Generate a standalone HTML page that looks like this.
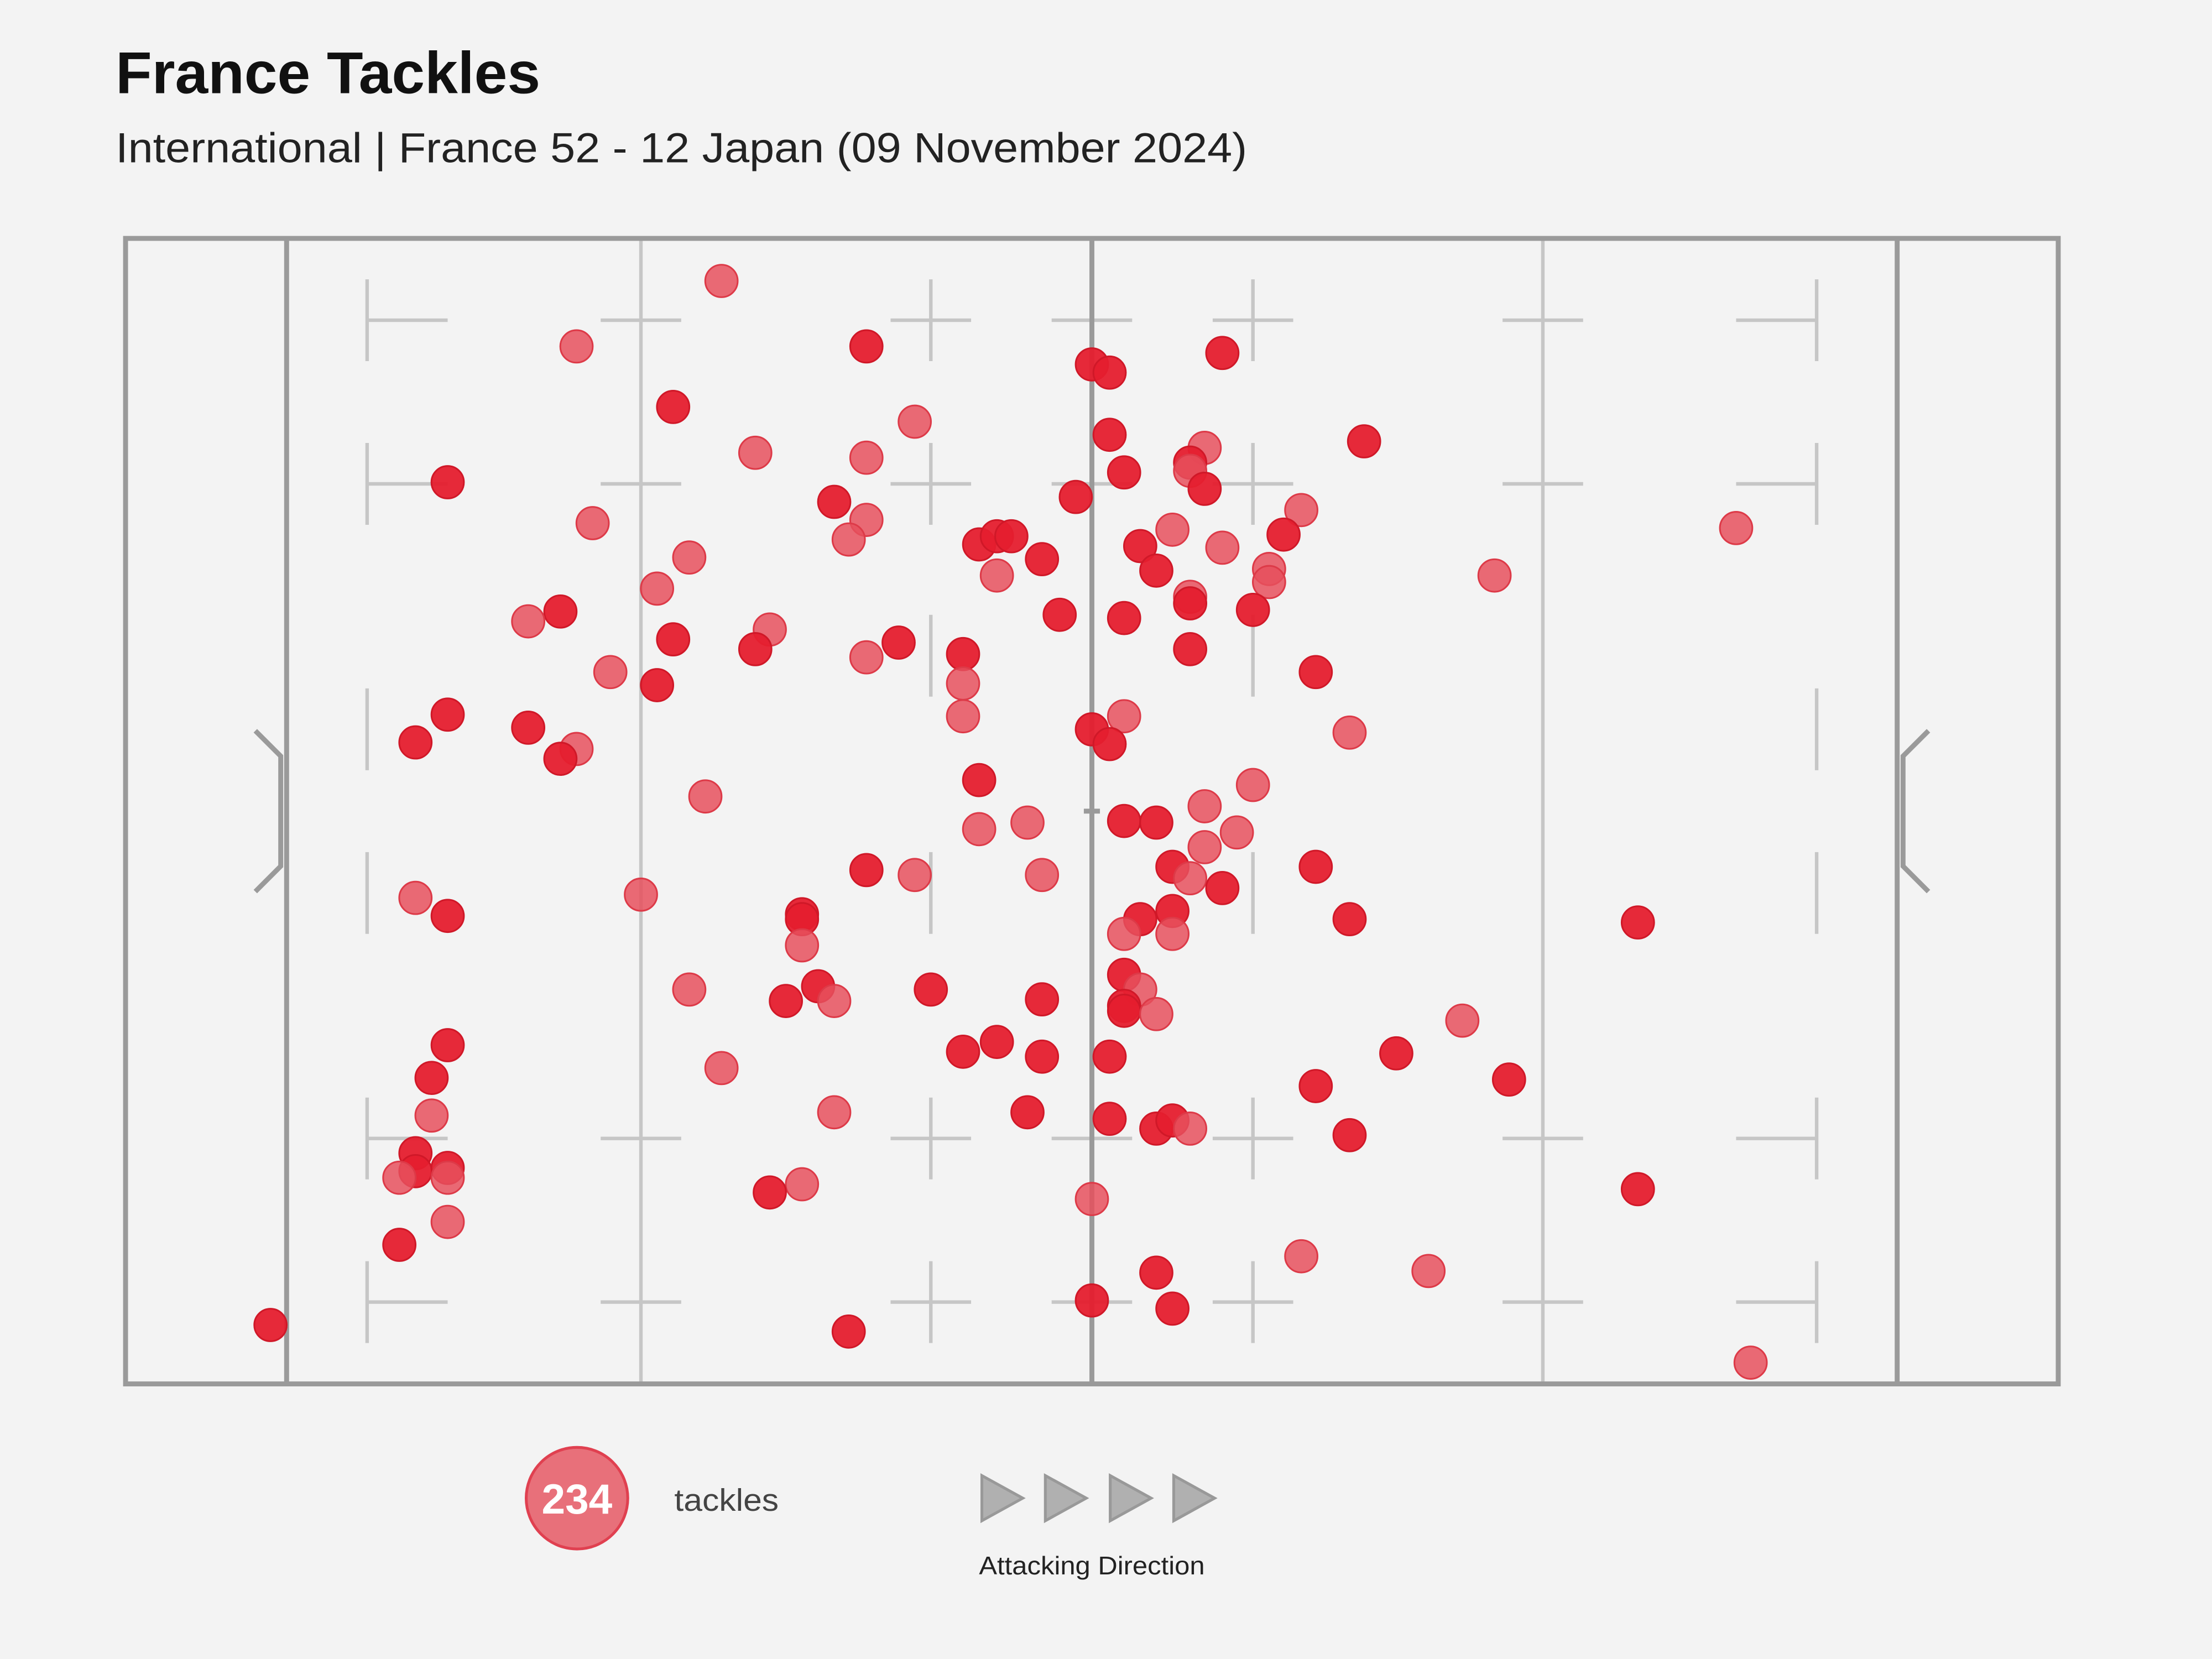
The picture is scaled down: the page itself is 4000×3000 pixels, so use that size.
<!DOCTYPE html>
<html><head><meta charset="utf-8"><style>
html,body{margin:0;padding:0;background:#f3f3f3;}
svg{display:block;}
</style></head><body>
<svg id="chart" width="4000" height="3000" viewBox="0 0 1568 1176" xmlns="http://www.w3.org/2000/svg" font-family="'Liberation Sans', sans-serif">
<rect width="1568" height="1176" fill="#f3f3f3"/>
<text x="82" y="66" font-size="42" font-weight="bold" fill="#111" textLength="301" lengthAdjust="spacingAndGlyphs">France Tackles</text>
<text x="82" y="115" font-size="30" fill="#222" textLength="802" lengthAdjust="spacingAndGlyphs">International | France 52 - 12 Japan (09 November 2024)</text>
<g id="pitch"></g>
<g id="points"></g>
<g>
<circle cx="409" cy="1062" r="36" fill="#e8707a" stroke="#e04050" stroke-width="2"/>
<text x="409" y="1073" font-size="30" font-weight="bold" fill="#fff" text-anchor="middle">234</text>
<text x="478" y="1071" font-size="22" fill="#444" textLength="74" lengthAdjust="spacingAndGlyphs">tackles</text>
<g fill="#b0b0b0" stroke="#999" stroke-width="2">
<polygon points="696,1046 725,1062 696,1078"/>
<polygon points="741,1046 770,1062 741,1078"/>
<polygon points="787,1046 816,1062 787,1078"/>
<polygon points="832,1046 861,1062 832,1078"/>
</g>
<text x="694" y="1116" font-size="18" fill="#222" textLength="160" lengthAdjust="spacingAndGlyphs">Attacking Direction</text>
</g>
</svg>
<script>
// x: metres from left try line (-10..110), y: metres from top touchline (0..70), d: 1 = strong, 0 = faded
const xs = [27,18,36,24,29.1,36,39,10,19,34,36,34.9,25,23,17,15,24,30,29.1,36,38,20.1,23,10,8,15,18,17,26,42,42,42,43,44.1,45,44.1,46.9,48,49,50,51.1,51.1,52,58.1,66.9,57,56.1,56.1,57,63,61.9,55,53,54,58.1,61,61,60,56.1,56.1,52,56.1,63.9,75,90,52,50,51.1,66,43,43,46,46.9,39,36,52,54,57,60,59,57,55,56.1,58.1,63.9,66,55,53,52,55,52,53,52,52,54,46.9,44.1,42,46.9,51.1,46,51.1,54,55,56.1,50,54,50,55,63,63.9,66,68.9,73,75.9,70.9,83.9,83.9,90.9,34.9,32,32,32,33,34,31,40,25,22,27,34,32,30,8,10,10,9,9,8,8,7,10,10,10,7,-1];
const ys = [2.6,6.6,6.6,10.3,13.1,13.4,11.2,14.9,17.4,16.1,17.2,18.4,19.5,21.4,22.8,23.4,24.5,23.9,25.1,25.6,24.7,26.5,27.3,29.1,30.8,29.9,31.2,31.8,34.1,25.4,27.2,29.2,18.7,18.2,18.2,20.6,19.6,23,15.8,7.7,8.2,12,14.3,7,12.4,12.8,13.7,14.2,15.3,16.6,18.1,17.8,18.8,20.3,18.9,20.2,21,22.7,21.9,22.3,23.2,25.1,26.5,20.6,17.7,29.2,30,30.9,30.2,33.1,36.1,35.7,38.9,38.9,38.6,35.6,35.7,34.7,33.4,36.3,37.2,38.4,39.1,39.7,38.4,41.6,41.1,41.6,42.5,42.5,45,45.9,46.9,47.2,47.4,46.5,49.1,49.7,50,50,53.4,53.8,54.4,53.9,54.4,58.7,63.2,64.9,65.4,62.2,51.8,54.8,49.8,47.8,51.4,63.1,41.8,58.1,68.7,66.8,41.3,41.6,43.2,45.7,46.6,46.6,45.9,45.9,40.1,50.7,53.4,57.8,58.3,40.3,41.4,49.3,51.3,53.6,55.9,57,57.4,56.8,57.4,60.1,61.5,66.4];
const ds = [0,0,1,1,0,0,0,1,0,1,0,0,0,0,1,0,1,0,1,0,1,0,1,1,1,1,0,1,0,1,0,0,1,1,1,0,1,1,1,1,1,1,1,1,1,0,1,0,1,0,1,0,1,1,0,0,0,1,0,1,1,1,1,0,0,0,1,1,0,1,0,0,0,0,1,1,1,0,0,0,0,1,0,1,1,1,1,1,0,0,1,0,1,1,0,1,1,1,1,1,1,1,1,1,0,0,1,1,1,0,1,1,1,0,1,0,1,1,0,1,1,1,0,1,0,1,1,0,0,0,0,0,1,0,1,1,1,0,1,1,0,1,0,0,1,1];

const X0 = 89, X1 = 1459, Y0 = 169, Y1 = 981;
function sx(m){ return X0 + (m + 10) / 120 * (X1 - X0); }
function sy(m){ return Y0 + m / 70 * (Y1 - Y0); }
const NS = 'http://www.w3.org/2000/svg';
function mk(tag, attrs, parent){
  const e = document.createElementNS(NS, tag);
  for (const k in attrs) e.setAttribute(k, attrs[k]);
  parent.appendChild(e);
  return e;
}
const pitch = document.getElementById('pitch');
const light = {stroke:'#c6c6c6','stroke-width':2.5,fill:'none'};
function seg(x1,y1,x2,y2,st,name){
  const l = mk('line', Object.assign({x1:x1,y1:y1,x2:x2,y2:y2}, st), pitch);
  
  
}
[22, 78].forEach(m => seg(sx(m), Y0, sx(m), Y1, light, 'twenty-two-line'));
const tickYs = [5, 15, 55, 65];
[5, 95].forEach(m => {
  [[2.5,7.5],[12.5,17.5],[27.5,32.5],[37.5,42.5],[52.5,57.5],[62.5,67.5]].forEach(r => seg(sx(m), sy(r[0]), sx(m), sy(r[1]), light, 'five-metre-dash'));
  tickYs.forEach(t => { const d = m < 50 ? 5 : -5; seg(sx(m), sy(t), sx(m + d), sy(t), light, 'five-metre-tick'); });
});
[22, 78].forEach(m => tickYs.forEach(t => seg(sx(m - 2.5), sy(t), sx(m + 2.5), sy(t), light, 'twenty-two-tick')));
[40, 60].forEach(m => {
  [[2.5,7.5],[12.5,17.5],[23,28],[37.5,42.5],[52.5,57.5],[62.5,67.5]].forEach(r => seg(sx(m), sy(r[0]), sx(m), sy(r[1]), light, 'ten-metre-dash'));
  tickYs.forEach(t => seg(sx(m - 2.5), sy(t), sx(m + 2.5), sy(t), light, 'ten-metre-tick'));
});
tickYs.forEach(t => seg(sx(47.5), sy(t), sx(52.5), sy(t), light, 'halfway-tick'));
const dark = {stroke:'#9a9a9a','stroke-width':3.5,fill:'none'};
seg(sx(49.5), sy(35), sx(50.5), sy(35), dark, 'centre-mark');
seg(sx(0), Y0, sx(0), Y1, dark, 'left-try-line');
seg(sx(100), Y0, sx(100), Y1, dark, 'right-try-line');
seg(sx(50), Y0, sx(50), Y1, dark, 'halfway-line');
const outer = mk('rect', {x:X0, y:Y0, width:X1-X0, height:Y1-Y0, fill:'none', stroke:'#9a9a9a', 'stroke-width':3.5}, pitch);


const gl = mk('polyline', {points:'181,518 199,536 199,614 181,632', fill:'none', stroke:'#9a9a9a', 'stroke-width':3.5}, pitch);


const gr = mk('polyline', {points:'1367,518 1349,536 1349,614 1367,632', fill:'none', stroke:'#9a9a9a', 'stroke-width':3.5}, pitch);



const pts = document.getElementById('points');
for (let i = 0; i < xs.length; i++) {
  const c = mk('circle', {cx:sx(xs[i]), cy:sy(ys[i]), r:11.5,
    fill: ds[i] ? '#e51e2e' : '#e6505d',
    'fill-opacity': ds[i] ? 0.95 : 0.85,
    stroke: ds[i] ? '#d01828' : '#dd3a48', 'stroke-width': 1.2}, pts);
  
  
}
</script>
</body></html>
